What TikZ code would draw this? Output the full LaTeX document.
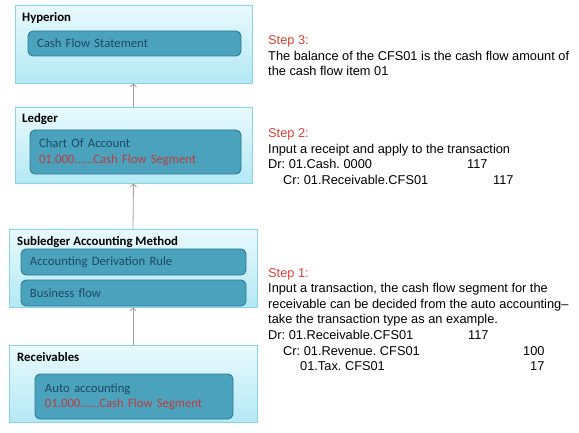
\documentclass[tikz,border=0pt]{standalone}
\usepackage{fontspec}
\setmainfont{Liberation Sans}
\newfontfamily\calibri{Carlito}
\usetikzlibrary{arrows.meta, positioning, shadows}

\definecolor{panelTop}{HTML}{E9FAFD}
\definecolor{panelBot}{HTML}{B3E8F5}
\definecolor{panelLine}{HTML}{8CD2E2}
\definecolor{itemFill}{HTML}{4BA2BD}
\definecolor{itemLine}{HTML}{2C7A93}
\definecolor{itemText}{HTML}{1D4A66}
\definecolor{segRed}{HTML}{C23B3B}
\definecolor{stepRed}{HTML}{D9413A}

\frenchspacing

\begin{document}
\begin{tikzpicture}[
    x=1pt, y=-1pt,
    panel/.style={draw=panelLine, top color=panelTop, bottom color=panelBot, rectangle, inner sep=0pt, line width=0.8pt,
        drop shadow={opacity=0.25, shadow xshift=1pt, shadow yshift=-1.2pt}},
    item/.style={draw=itemLine, fill=itemFill, rounded corners=5pt, line width=0.9pt, align=left, inner xsep=9pt, inner ysep=0pt,
        font=\calibri\fontsize{12.7}{15.5}\selectfont, text=itemText},
    title/.style={anchor=base west, inner sep=0pt, font=\calibri\bfseries\fontsize{12.8}{14}\selectfont},
    flow/.style={draw=gray!75, line width=0.8pt, -{Straight Barb[length=3pt, width=6pt]}},
    steptext/.style={anchor=north west, inner sep=0pt, align=left, font=\fontsize{12.8}{15.6}\selectfont}
]
\useasboundingbox (0,0) rectangle (579,433);

% layers, top to bottom
\node[panel, minimum width=237pt, minimum height=78pt] (hyperion) at (133.5,44) {};
\node[panel, minimum width=237pt, minimum height=76pt] (ledger) at (133.5,145) {};
\node[panel, minimum width=248pt, minimum height=78pt] (sla) at (133,268) {};
\node[panel, minimum width=248pt, minimum height=77pt] (receivables) at (133,383.5) {};

\node[title] (hyperionT) at (22,22) {Hyperion};
\node[title] (ledgerT) at (22,123) {Ledger};
\node[title] (slaT) at (17,246) {Subledger Accounting Method};
\node[title] (receivablesT) at (17,361) {Receivables};

\node[item, text width=195pt, minimum height=25pt] (cfs) at (134.5,43.5) {Cash Flow Statement};
\node[item, text width=193pt, minimum height=44pt] (coa) at (135.5,152) {Chart Of Account\\\textcolor{segRed}{01.000......Cash Flow Segment}};
\node[item, text width=207pt, minimum height=26pt] (adr) at (133.5,262) {Accounting Derivation Rule};
\node[item, text width=207pt, minimum height=26pt] (bflow) at (133.5,293) {Business flow};
\node[item, inner xsep=10pt, text width=178pt, minimum height=45pt] (autoacc) at (134,396.5) {Auto accounting\\\textcolor{segRed}{01.000......Cash Flow Segment}};

\draw[flow] (receivables.north) -- (sla.south);
\draw[flow] (sla.north) -- (ledger.south);
\draw[flow] (ledger.north) -- (hyperion.south);

% explanation of each step
\node[steptext] (step3) at (268,35.5) {
\textcolor{stepRed}{Step 3:}\\
The balance of the CFS01 is the cash flow amount of\\
the cash flow item 01
};
\node[steptext] (step2) at (268,128.5) {
\textcolor{stepRed}{Step 2:}\\
Input a receipt and apply to the transaction\\
\makebox[199pt][l]{Dr: 01.Cash. 0000}117\\
\makebox[225pt][l]{\hspace{15pt}Cr: 01.Receivable.CFS01}117
};
\node[steptext] (step1) at (268,268) {
\textcolor{stepRed}{Step 1:}\\
Input a transaction, the cash flow segment for the\\
receivable can be decided from the auto accounting--\\
take the transaction type as an example.\\
\makebox[200pt][l]{Dr: 01.Receivable.CFS01}117\\
\makebox[255pt][l]{\hspace{15pt}Cr: 01.Revenue. CFS01}100\\
\makebox[262pt][l]{\hspace{32pt}01.Tax. CFS01}17
};

\end{tikzpicture}
\end{document}
